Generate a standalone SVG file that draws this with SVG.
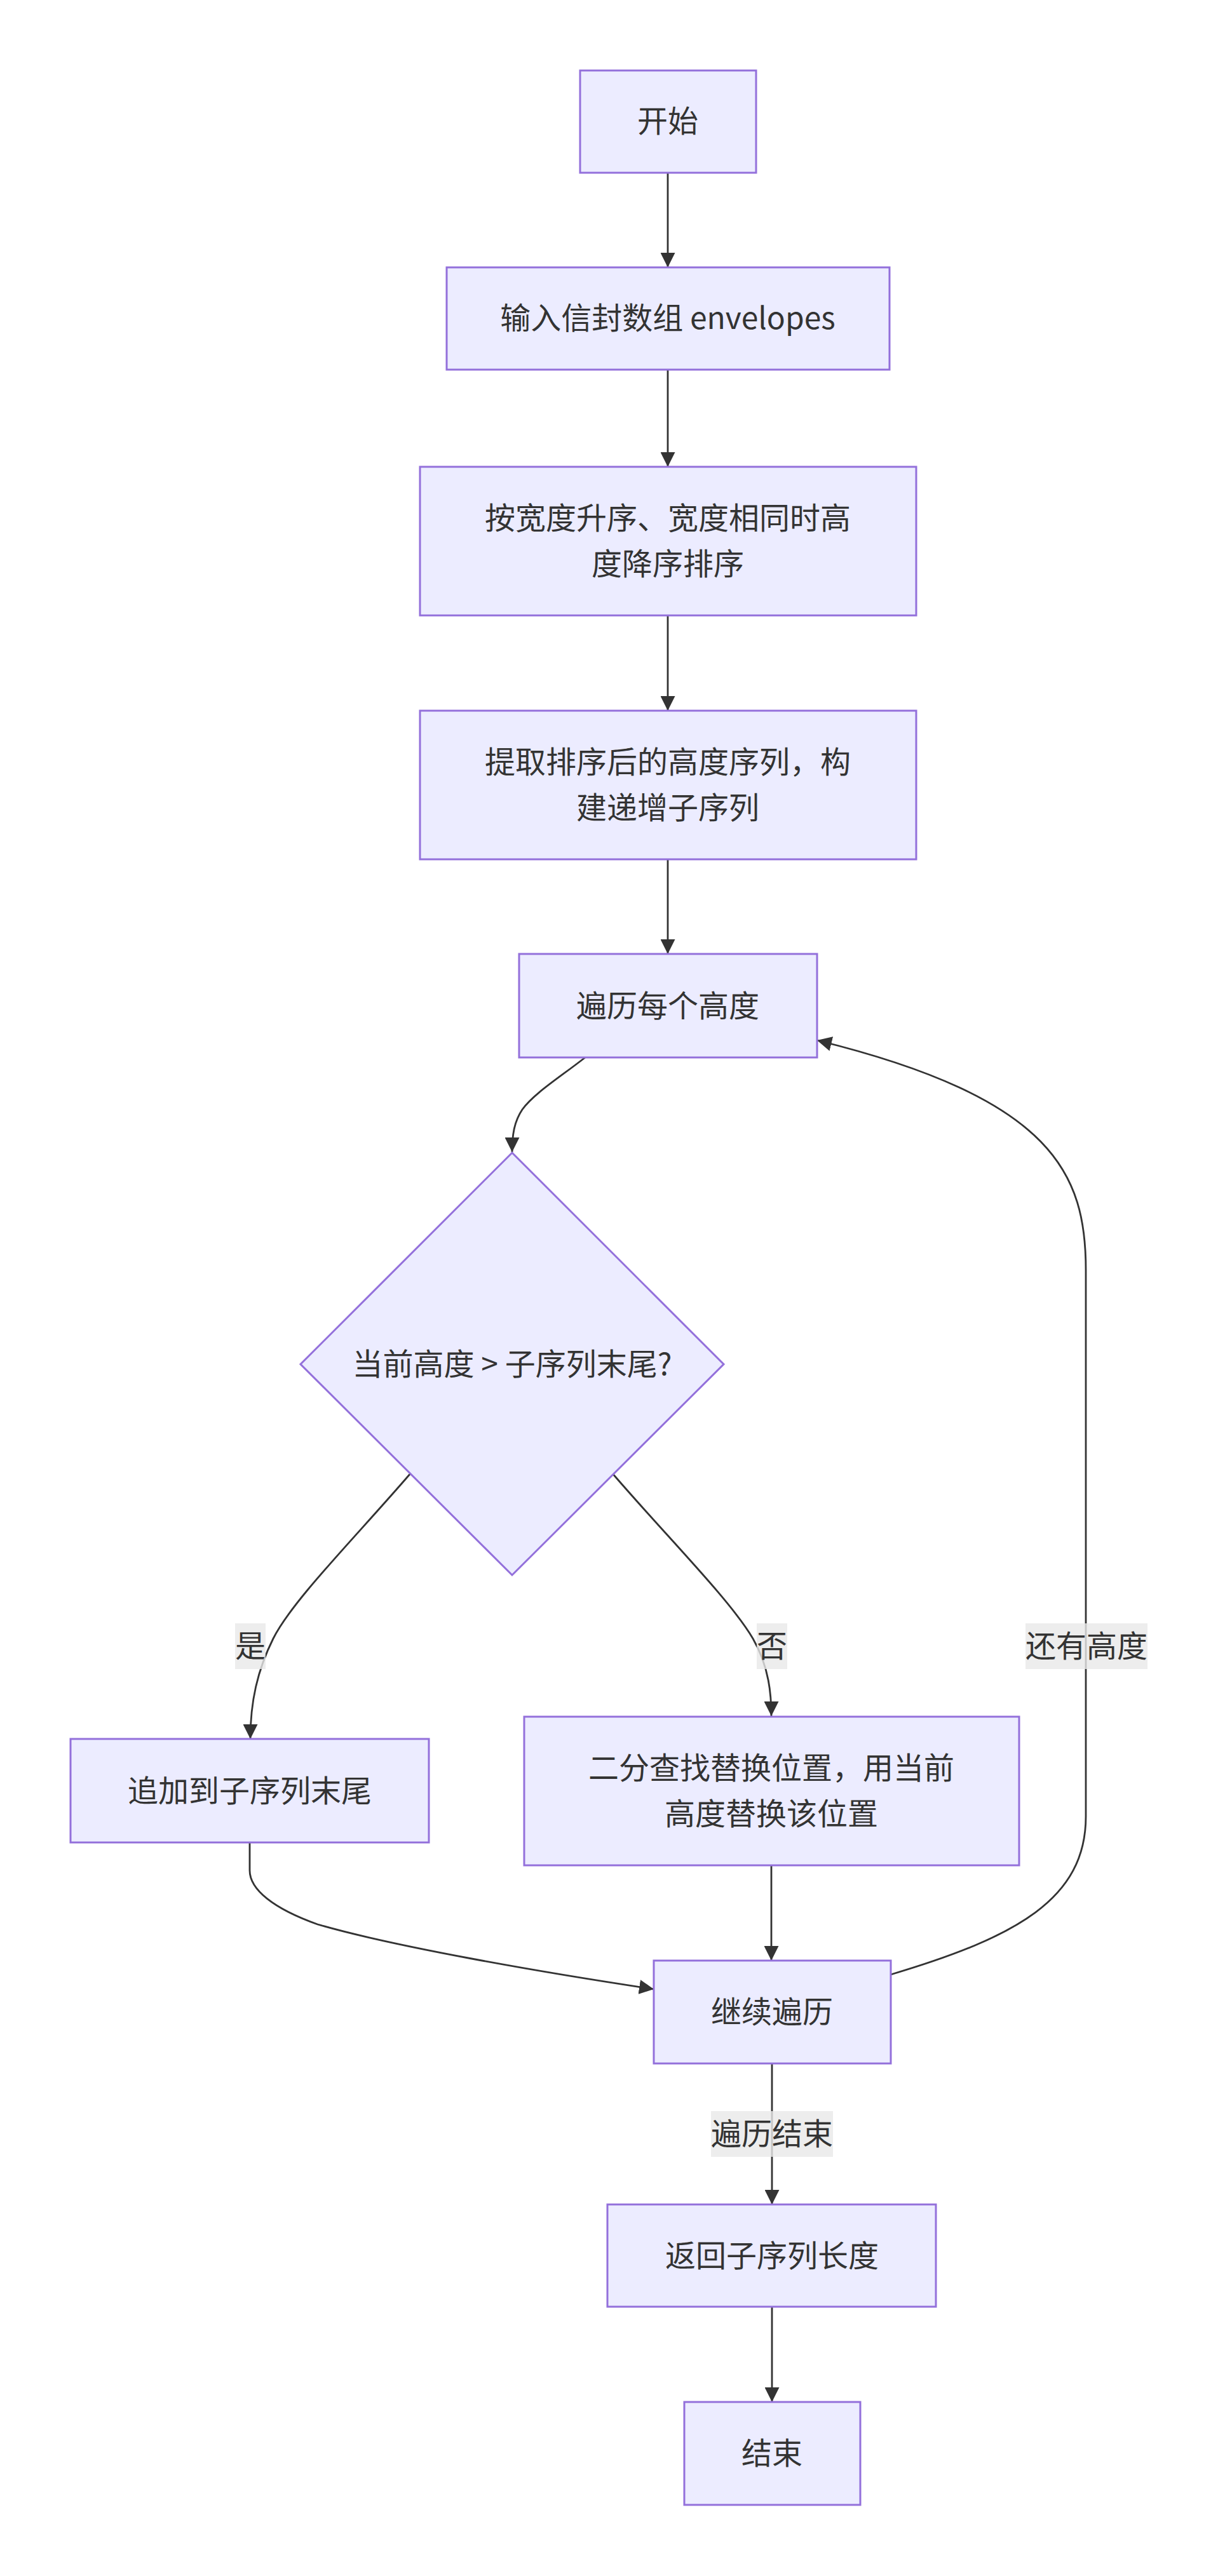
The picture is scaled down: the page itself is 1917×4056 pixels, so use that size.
<svg xmlns="http://www.w3.org/2000/svg" width="1917" height="4056" viewBox="0 0 1917 4056">
<style>
.node rect, .node polygon { fill: #ECECFF; stroke: #9370DB; stroke-width: 3; }
.edge { fill: none; stroke: #333333; stroke-width: 2.8; }
text { font-family: "Noto Sans CJK SC", "Noto Sans", sans-serif; font-size: 48px; fill: #333333; text-anchor: middle; dominant-baseline: central; }
.lbl rect { fill: #e8e8e8; fill-opacity: 0.8; }
</style>
<defs>
<marker id="arrow" markerUnits="userSpaceOnUse" markerWidth="23" markerHeight="23" viewBox="0 0 10 10" refX="10" refY="5" orient="auto">
<path d="M0,0 L10,5 L0,10 z" fill="#333333"/>
</marker>
</defs>
<rect x="0" y="0" width="1917" height="4056" fill="#ffffff"/>
<g id="edges">
<path class="edge" d="M1051,272 L1051,421" marker-end="url(#arrow)"/>
<path class="edge" d="M1051,582 L1051,735" marker-end="url(#arrow)"/>
<path class="edge" d="M1051,969 L1051,1119" marker-end="url(#arrow)"/>
<path class="edge" d="M1051,1353 L1051,1502" marker-end="url(#arrow)"/>
<path class="edge" d="M921,1665 C880,1697 840,1722 822,1747 C810,1765 806,1785 806,1814" marker-end="url(#arrow)"/>
<path class="edge" d="M646,2320 C560,2420 460,2520 430,2580 C405,2630 394,2680 394,2738" marker-end="url(#arrow)"/>
<path class="edge" d="M964,2320 C1050,2420 1150,2520 1185,2580 C1211,2625 1214,2670 1214,2702" marker-end="url(#arrow)"/>
<path class="edge" d="M393,2901 L393,2945 C393,2975 430,3005 500,3030 C620,3065 850,3105 1029,3132" marker-end="url(#arrow)"/>
<path class="edge" d="M1214,2937 L1214,3087" marker-end="url(#arrow)"/>
<path class="edge" d="M1215,3249 L1215,3471" marker-end="url(#arrow)"/>
<path class="edge" d="M1215,3632 L1215,3782" marker-end="url(#arrow)"/>
<path class="edge" d="M1402,3109 C1600,3050 1709,2990 1709,2860 L1709,2000 C1709,1850 1660,1730 1286,1638" marker-end="url(#arrow)"/>
</g>
<g id="edge-labels">
<g class="lbl" id="label-yes"><rect x="370" y="2556" width="48" height="72"/><text x="394" y="2588">是</text></g>
<g class="lbl" id="label-no"><rect x="1191" y="2556" width="48" height="72"/><text x="1215" y="2588">否</text></g>
<g class="lbl" id="label-more"><rect x="1614" y="2556" width="192" height="72"/><text x="1710" y="2588">还有高度</text></g>
<g class="lbl" id="label-done"><rect x="1119" y="3324" width="192" height="72"/><text x="1215" y="3356">遍历结束</text></g>
</g>
<g id="node-start" class="node"><rect x="913" y="111" width="277" height="161"/><text x="1051" y="187">开始</text></g>
<g id="node-input" class="node"><rect x="703" y="421" width="697" height="161"/><text x="1051" y="497">输入信封数组 envelopes</text></g>
<g id="node-sort" class="node"><rect x="661" y="735" width="781" height="234"/><text x="1051" y="812">按宽度升序、宽度相同时高</text><text x="1051" y="884">度降序排序</text></g>
<g id="node-extract" class="node"><rect x="661" y="1119" width="781" height="234"/><text x="1051" y="1196">提取排序后的高度序列，构</text><text x="1051" y="1268">建递增子序列</text></g>
<g id="node-iterate" class="node"><rect x="817" y="1502" width="469" height="163"/><text x="1051" y="1580">遍历每个高度</text></g>
<g id="node-decision" class="node"><polygon points="806,1815 1139,2148 806,2480 473,2148"/><text x="806" y="2144">当前高度 &gt; 子序列末尾?</text></g>
<g id="node-append" class="node"><rect x="111" y="2738" width="564" height="163"/><text x="393" y="2816">追加到子序列末尾</text></g>
<g id="node-replace" class="node"><rect x="825" y="2703" width="779" height="234"/><text x="1214" y="2780">二分查找替换位置，用当前</text><text x="1214" y="2852">高度替换该位置</text></g>
<g id="node-continue" class="node"><rect x="1029" y="3087" width="373" height="162"/><text x="1215" y="3164">继续遍历</text></g>
<g id="node-return" class="node"><rect x="956" y="3471" width="517" height="161"/><text x="1215" y="3548">返回子序列长度</text></g>
<g id="node-end" class="node"><rect x="1077" y="3782" width="277" height="162"/><text x="1215" y="3859">结束</text></g>
</svg>
